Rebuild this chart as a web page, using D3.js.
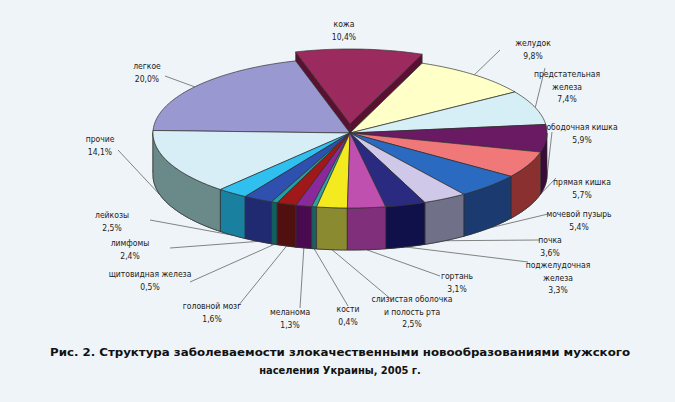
<!DOCTYPE html><html><head><meta charset="utf-8"><script src="https://cdn.jsdelivr.net/npm/d3@7"></script>
<style>body{margin:0;background:#eef4f7}</style></head><body><svg id="c" width="675" height="402"></svg>
<script>
const categories=["кожа","желудок","предстательная железа","ободочная кишка","прямая кишка","мочевой пузырь","почка","поджелудочная железа","гортань","слизистая оболочка и полость рта","кости","меланома","головной мозг","щитовидная железа","лимфомы","лейкозы","прочие","легкое"];
const values=[10.4,9.8,7.4,5.9,5.7,5.4,3.6,3.3,3.1,2.5,0.4,1.3,1.6,0.5,2.4,2.5,14.1,20.0];
const valueLabels=["10,4%","9,8%","7,4%","5,9%","5,7%","5,4%","3,6%","3,3%","3,1%","2,5%","0,4%","1,3%","1,6%","0,5%","2,4%","2,5%","14,1%","20,0%"];
const topColors=["#9b2a5e","#ffffc8","#d6eef6","#6a1a62","#f07878","#2a6ac0","#d0c8e8","#2a2a80","#c050b0","#f4ea20","#30a0a0","#8a2a9a","#a01818","#20a0a0","#3050b0","#30c0f0","#d8eef6","#9a98d0"];
const sideColors=["#5a1030","#a0a070","#80a0b0","#3a0a38","#8b3030","#1a3a70","#707088","#10104a","#80307a","#8a8a30","#1a6060","#4a0a50","#501010","#106060","#202a70","#1a80a0","#6a8a8a","#4a4a80"];
const labelLines=[["кожа","10,4%"],["желудок","9,8%"],["предстательная","железа","7,4%"],["ободочная кишка","5,9%"],["прямая кишка","5,7%"],["мочевой пузырь","5,4%"],["почка","3,6%"],["поджелудочная","железа","3,3%"],["гортань","3,1%"],["слизистая оболочка","и полость рта","2,5%"],["кости","0,4%"],["меланома","1,3%"],["головной мозг","1,6%"],["щитовидная железа","0,5%"],["лимфомы","2,4%"],["лейкозы","2,5%"],["прочие","14,1%"],["легкое","20,0%"]];
const labelPos=[[344,27,null],[533,46,[500,50]],[567,77,[545,68]],[582,130,[552,132]],[582,185,[556,178]],[579,217,[548,214]],[550,243,[540,240]],[558,268,[528,262]],[457,279,[440,276]],[412,302,[392,300]],[348,312,[348,306]],[290,315,[300,308]],[212,309,[238,306]],[150,277,[190,282]],[130,246,[170,248]],[112,218,[150,220]],[100,142,[118,150]],[147,69,[165,76]]];
const cx=350,cy=133,rx=197,ry=75,depth=42,start=-16*Math.PI/180;
const svg=d3.select("#c");
svg.append("rect").attr("width",675).attr("height",402).attr("fill","#eef4f7");
const pie=d3.pie().sort(null).startAngle(start).endAngle(start+2*Math.PI).value(d=>d)(values);
const P=(a,r=1)=>[cx+rx*r*Math.sin(a),cy-ry*r*Math.cos(a)];
function off(i){if(i!==0)return[0,0];return[0,-9];}
function arcPts(a0,a1,dy,o){const n=Math.max(2,Math.ceil((a1-a0)/0.02));const pts=[];for(let k=0;k<=n;k++){const a=a0+(a1-a0)*k/n;const p=P(a);pts.push([p[0]+o[0],p[1]+dy+o[1]]);}return pts;}
function topPath(i,dy){const o=off(i),s=pie[i];const pts=[[cx+o[0],cy+dy+o[1]]].concat(arcPts(s.startAngle,s.endAngle,dy,o));return "M"+pts.map(p=>p.join(",")).join("L")+"Z";}
const order=d3.range(values.length).sort((a,b)=>{const ma=(pie[a].startAngle+pie[a].endAngle)/2,mb=(pie[b].startAngle+pie[b].endAngle)/2;return Math.cos(mb)-Math.cos(ma);});
const g=svg.append("g").attr("stroke","#333").attr("stroke-width",0.7).attr("stroke-linejoin","round");
order.forEach(i=>{
  g.append("path").attr("d",topPath(i,depth)).attr("fill",sideColors[i]);
  const o=off(i),s=pie[i];
  [s.startAngle,s.endAngle].forEach(a=>{const p=P(a);g.append("path").attr("d",`M${cx+o[0]},${cy+o[1]}L${p[0]+o[0]},${p[1]+o[1]}L${p[0]+o[0]},${p[1]+o[1]+depth}L${cx+o[0]},${cy+o[1]+depth}Z`).attr("fill",sideColors[i]);});
  const segs=[[Math.PI/2,3*Math.PI/2],[Math.PI/2+2*Math.PI,3*Math.PI/2+2*Math.PI]];
  segs.forEach(([f0,f1])=>{const a0=Math.max(s.startAngle,f0),a1=Math.min(s.endAngle,f1);if(a1>a0){const t=arcPts(a0,a1,0,o),b=arcPts(a0,a1,depth,o).reverse();g.append("path").attr("d","M"+t.concat(b).map(p=>p.join(",")).join("L")+"Z").attr("fill",sideColors[i]);}});
});
order.forEach(i=>{g.append("path").attr("d",topPath(i,0)).attr("fill",topColors[i]);});
const lg=svg.append("g").attr("font-family","'DejaVu Sans Condensed','DejaVu Sans',sans-serif").attr("font-size",8.5).attr("fill","#222").attr("text-anchor","middle");
labelPos.forEach(([x,y,anc],i)=>{
  const s=pie[i],m=(s.startAngle+s.endAngle)/2,o=off(i);
  if(anc){const front=Math.cos(m)<0;const p=P(m);const pt=[p[0]+o[0],p[1]+o[1]+(front?depth:0)];
    svg.insert("path","g").attr("d",`M${pt[0]},${pt[1]}L${anc[0]},${anc[1]}`).attr("stroke","#666").attr("fill","none").attr("stroke-width",0.8);}
  labelLines[i].forEach((t,k)=>lg.append("text").attr("x",x).attr("y",y+k*12.5).text(t));
});
const cg=svg.append("g").attr("font-family","'DejaVu Sans Condensed','DejaVu Sans',sans-serif").attr("font-weight","bold").attr("font-size",11).attr("fill","#111").attr("text-anchor","middle");
cg.append("text").attr("x",340).attr("y",356).attr("textLength",580).attr("lengthAdjust","spacingAndGlyphs").text("Рис. 2. Структура заболеваемости злокачественными новообразованиями мужского");
cg.append("text").attr("x",340).attr("y",374).text("населения Украины, 2005 г.");
</script></body></html>
